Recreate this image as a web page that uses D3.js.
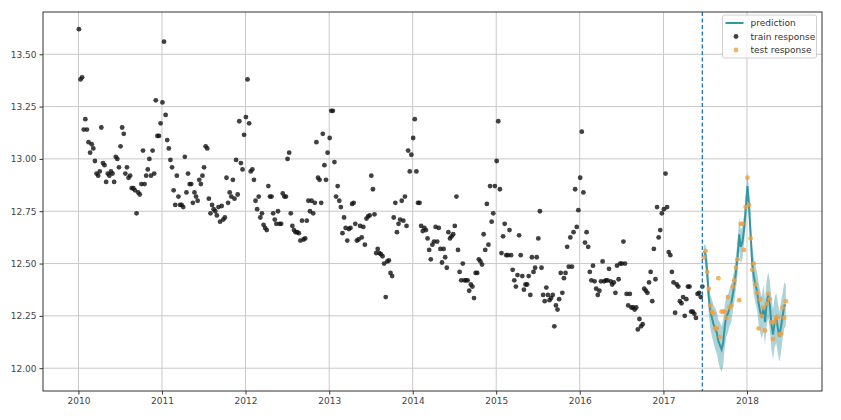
<!DOCTYPE html>
<html lang="en">
<head>
<meta charset="UTF-8" />
<script src="https://d3js.org/d3.v7.min.js"></script>
<title>prediction vs response</title>
<style>
  body { margin: 0; background: #fff; }
  text { font-family: "DejaVu Sans", sans-serif; }
</style>
</head>
<body>
<script type="text/javascript">
// weekly train response, one array per year
var train2010 = [13.62,13.38,13.39,13.14,13.19,13.14,13.08,13.03,13.07,13.05,12.99,12.93,12.92,12.94,13.15,12.98,12.97,12.89,12.93,12.92,12.94,12.93,12.89,13.01,13.00,12.96,13.06,13.15,13.12,12.93,12.96,12.91,12.92,12.86,12.86,12.85,12.74,12.84,12.83,12.88,13.04,12.88,12.92,12.95,13.00,12.92,13.04,12.93,13.28,13.11,13.11,13.17];
var train2011 = [13.27,13.56,13.21,13.09,13.05,12.995,12.96,12.85,12.78,12.92,12.82,12.78,12.78,12.77,13.01,12.84,12.93,12.88,12.88,12.79,12.84,12.82,12.80,12.90,12.88,12.92,12.96,13.06,13.05,12.81,12.74,12.78,12.76,12.75,12.73,12.77,12.70,12.775,12.71,12.72,12.91,12.79,12.84,12.82,12.90,12.81,12.995,12.83,13.18,12.98,12.95,13.115];
var train2012 = [13.20,13.38,13.17,12.94,12.95,12.90,12.80,12.76,12.82,12.72,12.74,12.685,12.67,12.66,12.87,12.82,12.82,12.74,12.71,12.69,12.75,12.69,12.69,12.835,12.82,12.82,13.00,13.03,12.74,12.68,12.66,12.65,12.65,12.645,12.61,12.705,12.615,12.62,12.705,12.80,12.75,12.80,12.74,12.79,13.08,12.91,12.90,12.79,13.12,12.97,12.90,13.03];
var train2013 = [13.10,13.23,13.23,12.985,12.82,12.87,12.80,12.77,12.645,12.72,12.67,12.61,12.665,12.67,12.785,12.79,12.69,12.61,12.615,12.68,12.625,12.675,12.59,12.715,12.725,12.73,12.92,12.855,12.735,12.55,12.57,12.55,12.545,12.535,12.50,12.34,12.51,12.515,12.455,12.44,12.72,12.79,12.65,12.69,12.71,12.80,12.705,12.82,12.68,13.04,12.94,13.02];
var train2014 = [13.10,13.19,12.94,12.79,12.79,12.68,12.655,12.67,12.66,12.62,12.565,12.52,12.59,12.605,12.675,12.605,12.67,12.57,12.505,12.57,12.53,12.48,12.65,12.62,12.63,12.64,12.68,12.82,12.565,12.46,12.42,12.50,12.42,12.42,12.42,12.37,12.40,12.39,12.335,12.455,12.455,12.52,12.51,12.495,12.64,12.565,12.785,12.59,12.87,12.70,12.74,12.87];
var train2015 = [12.99,13.18,12.855,12.55,12.63,12.69,12.54,12.54,12.66,12.54,12.47,12.42,12.39,12.445,12.635,12.54,12.44,12.375,12.40,12.40,12.44,12.35,12.53,12.46,12.48,12.53,12.62,12.75,12.48,12.35,12.32,12.385,12.35,12.325,12.335,12.35,12.20,12.30,12.28,12.33,12.455,12.36,12.43,12.455,12.58,12.485,12.625,12.485,12.65,12.855,12.675,12.755];
var train2016 = [12.91,13.13,12.84,12.60,12.65,12.58,12.46,12.42,12.49,12.415,12.38,12.35,12.37,12.415,12.51,12.415,12.42,12.42,12.475,12.415,12.40,12.41,12.36,12.49,12.425,12.50,12.50,12.605,12.50,12.355,12.30,12.355,12.29,12.29,12.28,12.29,12.185,12.235,12.20,12.21,12.38,12.37,12.36,12.41,12.46,12.32,12.57,12.425,12.77,12.625,12.66,12.74];
var train2017 = [12.76,12.93,12.77,12.555,12.54,12.46,12.41,12.265,12.40,12.39,12.32,12.31,12.34,12.25,12.33,12.39,12.39,12.27,12.27,12.26,12.24,12.355,12.36,12.34,12.39];

// test period: 2017 weeks 25..51, then 2018 weeks 0..24
var testResponse = [12.53,12.56,12.46,12.38,12.30,12.27,12.26,12.19,12.19,12.43,12.15,12.27,12.27,12.27,12.24,12.34,12.29,12.30,12.39,12.42,12.48,12.52,12.325,12.69,12.69,12.565,12.77,
                    12.91,12.78,12.62,12.47,12.50,12.40,12.36,12.19,12.33,12.25,12.29,12.18,12.31,12.355,12.33,12.22,12.14,12.22,12.24,12.245,12.16,12.165,12.29,12.24,12.32];
var prediction = [12.56,12.54,12.46,12.34,12.27,12.24,12.21,12.19,12.17,12.13,12.11,12.09,12.12,12.20,12.25,12.26,12.29,12.31,12.35,12.40,12.46,12.53,12.64,12.58,12.60,12.66,12.75,
                  12.87,12.78,12.64,12.50,12.44,12.40,12.37,12.31,12.27,12.24,12.29,12.22,12.31,12.35,12.30,12.21,12.16,12.22,12.24,12.19,12.15,12.20,12.25,12.30,12.30];
var predLower = [12.53,12.49,12.39,12.26,12.19,12.15,12.12,12.09,12.07,12.03,12.00,11.98,12.01,12.10,12.15,12.17,12.20,12.22,12.27,12.32,12.38,12.45,12.56,12.50,12.52,12.59,12.68,
                 12.80,12.71,12.56,12.42,12.35,12.31,12.28,12.21,12.17,12.14,12.18,12.11,12.20,12.24,12.18,12.09,12.04,12.10,12.12,12.07,12.03,12.08,12.14,12.19,12.20];
var predUpper = [12.59,12.59,12.53,12.42,12.35,12.33,12.30,12.29,12.27,12.23,12.22,12.20,12.23,12.30,12.35,12.35,12.38,12.40,12.43,12.48,12.54,12.61,12.72,12.66,12.68,12.73,12.82,
                 12.94,12.85,12.72,12.58,12.53,12.49,12.46,12.41,12.37,12.34,12.40,12.33,12.42,12.46,12.42,12.33,12.28,12.34,12.36,12.31,12.27,12.32,12.36,12.41,12.40];

var yTicks = [12.00, 12.25, 12.50, 12.75, 13.00, 13.25, 13.50];
var xTickYears = [2010, 2011, 2012, 2013, 2014, 2015, 2016, 2017, 2018];
var splitDate = new Date(Date.UTC(2017, 5, 20));
var legendLabels = ["prediction", "train response", "test response"];

var width = 841, height = 420;
var margin = {left: 43, right: 19, top: 12, bottom: 29};

function weekDate(year, i) { return new Date(Date.UTC(year, 0, 3 + 7 * i)); }

var trainYears = [[2010, train2010], [2011, train2011], [2012, train2012], [2013, train2013],
                  [2014, train2014], [2015, train2015], [2016, train2016], [2017, train2017]];
var train = [];
trainYears.forEach(function(p) {
  p[1].forEach(function(v, i) { train.push({date: weekDate(p[0], i), value: v}); });
});
var test = testResponse.map(function(v, k) {
  var d = k < 27 ? weekDate(2017, 25 + k) : weekDate(2018, k - 27);
  return {date: d, value: v, pred: prediction[k], lo: predLower[k], hi: predUpper[k]};
});

var svg = d3.select("body").append("svg").attr("width", width).attr("height", height);

var x = d3.scaleUtc()
  .domain([new Date(Date.UTC(2009, 6, 30)), new Date(Date.UTC(2018, 10, 25))])
  .range([margin.left, width - margin.right]);
var y = d3.scaleLinear().domain([11.891, 13.702]).range([height - margin.bottom, margin.top]);

// grid
svg.append("g").selectAll("line").data(xTickYears).enter().append("line")
  .attr("x1", function(d){ return x(new Date(Date.UTC(d, 0, 1))); })
  .attr("x2", function(d){ return x(new Date(Date.UTC(d, 0, 1))); })
  .attr("y1", margin.top).attr("y2", height - margin.bottom)
  .attr("stroke", "#c8c8c8").attr("stroke-width", 1);
svg.append("g").selectAll("line").data(yTicks).enter().append("line")
  .attr("x1", margin.left).attr("x2", width - margin.right)
  .attr("y1", function(d){ return y(d); }).attr("y2", function(d){ return y(d); })
  .attr("stroke", "#c8c8c8").attr("stroke-width", 1);

// axes
var xAxis = d3.axisBottom(x)
  .tickValues(xTickYears.map(function(d){ return new Date(Date.UTC(d, 0, 1)); }))
  .tickFormat(d3.utcFormat("%Y")).tickSize(3.5).tickPadding(3.5);
var yAxis = d3.axisLeft(y).tickValues(yTicks).tickFormat(d3.format(".2f")).tickSize(3.5).tickPadding(3);

var gx = svg.append("g").attr("transform", "translate(0," + (height - margin.bottom) + ")").call(xAxis);
var gy = svg.append("g").attr("transform", "translate(" + margin.left + ",0)").call(yAxis);
[gx, gy].forEach(function(g) {
  g.select(".domain").remove();
  g.selectAll("line").attr("stroke", "#333");
  g.selectAll("text").attr("fill", "#444").style("font-size", "9px").style("font-family", "DejaVu Sans, sans-serif");
});

// band + prediction line
var area = d3.area().x(function(d){ return x(d.date); })
  .y0(function(d){ return y(d.lo); }).y1(function(d){ return y(d.hi); });
svg.append("path").datum(test).attr("d", area).attr("fill", "#4a9ea8").attr("fill-opacity", 0.45);

var line = d3.line().x(function(d){ return x(d.date); }).y(function(d){ return y(d.pred); });
svg.append("path").datum(test).attr("d", line)
  .attr("fill", "none").attr("stroke", "#3597a2").attr("stroke-width", 2);

// train points
svg.append("g").selectAll("circle").data(train).enter().append("circle")
  .attr("cx", function(d){ return x(d.date); }).attr("cy", function(d){ return y(d.value); })
  .attr("r", 2.4).attr("fill", "#111").attr("fill-opacity", 0.8);

// test points
svg.append("g").selectAll("circle").data(test).enter().append("circle")
  .attr("cx", function(d){ return x(d.date); }).attr("cy", function(d){ return y(d.value); })
  .attr("r", 2.4).attr("fill", "#f0a040").attr("fill-opacity", 0.8);

// split line
svg.append("line")
  .attr("x1", x(splitDate)).attr("x2", x(splitDate))
  .attr("y1", margin.top).attr("y2", height - margin.bottom)
  .attr("stroke", "#1f77b4").attr("stroke-width", 1.3).attr("stroke-dasharray", "4,2.5");

// frame
svg.append("rect").attr("x", margin.left).attr("y", margin.top)
  .attr("width", width - margin.left - margin.right).attr("height", height - margin.top - margin.bottom)
  .attr("fill", "none").attr("stroke", "#333").attr("stroke-width", 1);

// legend
var lg = svg.append("g").attr("transform", "translate(722.5,15)");
lg.append("rect").attr("width", 94).attr("height", 43).attr("rx", 2)
  .attr("fill", "#fff").attr("fill-opacity", 0.8).attr("stroke", "#d0d0d0");
lg.append("line").attr("x1", 3).attr("x2", 21).attr("y1", 8).attr("y2", 8)
  .attr("stroke", "#3597a2").attr("stroke-width", 2);
lg.append("circle").attr("cx", 13.5).attr("cy", 21.5).attr("r", 2.4).attr("fill", "#111").attr("fill-opacity", 0.8);
lg.append("circle").attr("cx", 13.5).attr("cy", 35).attr("r", 2.4).attr("fill", "#f0a040").attr("fill-opacity", 0.8);
lg.selectAll("text").data(legendLabels).enter().append("text")
  .attr("x", 28).attr("y", function(d, i){ return 11 + i * 13.5; })
  .attr("fill", "#333").style("font-size", "9px").text(function(d){ return d; });
</script>
</body>
</html>
